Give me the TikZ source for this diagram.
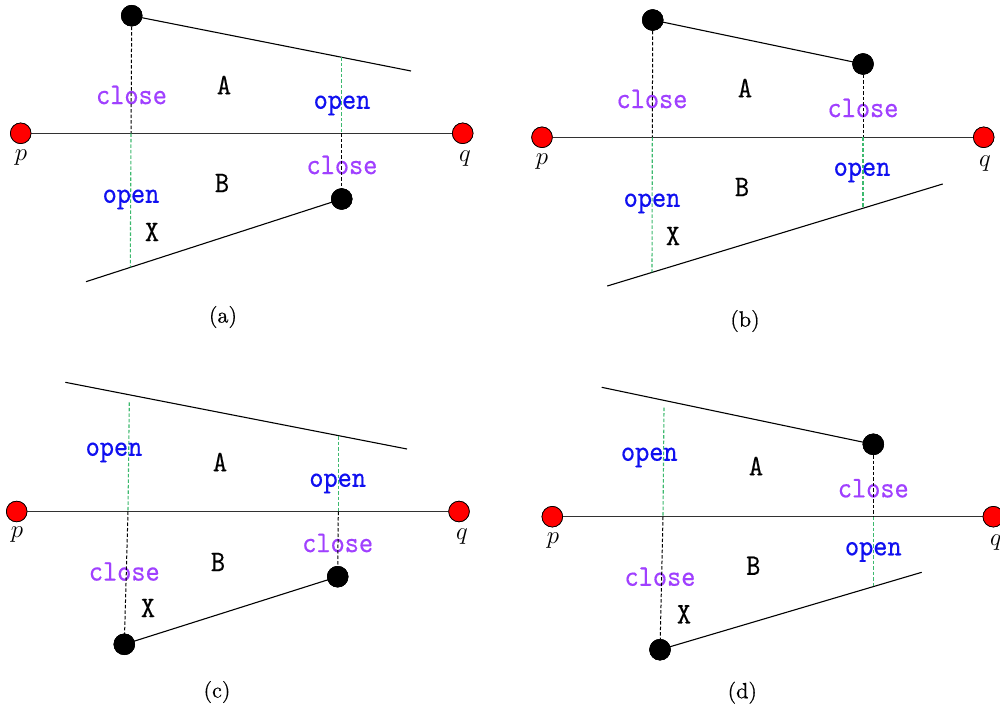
\documentclass[tikz,border=0pt]{standalone}
\usepackage{fontspec}
\newfontfamily\labfont{lmmono10-regular.otf}[FakeBold=0.35,FakeStretch=0.9]
\newfontfamily\capfont{lmroman10-regular.otf}[FakeBold=0.5]
\definecolor{closecol}{RGB}{160,64,255}
\definecolor{opencol}{RGB}{16,16,240}
\definecolor{greencol}{RGB}{60,185,110}
\definecolor{axiscol}{RGB}{50,50,50}
\tikzset{
  reddot/.style={circle, fill=red, draw=black, line width=0.7pt, minimum size=20.6pt, inner sep=0pt},
  blkdot/.style={circle, fill=black, draw=black, minimum size=21pt, inner sep=0pt},
  seg/.style={line width=1.1pt, black},
  axis/.style={line width=1.2pt, axiscol},
  bdash/.style={line width=1pt, black, dash pattern=on 3.5pt off 2pt},
  gdash/.style={line width=1.1pt, greencol, dash pattern=on 3.5pt off 2pt},
  lab/.style={font=\fontsize{30}{33}\selectfont\labfont, inner sep=0pt},
  closelab/.style={lab, text=closecol},
  openlab/.style={lab, text=opencol},
  region/.style={lab, text=black},
  ptlab/.style={font=\fontsize{24}{26}\selectfont, inner sep=0pt},
  caplab/.style={font=\fontsize{22}{24}\selectfont\capfont, inner sep=0pt}
}
\begin{document}
\begin{tikzpicture}[x=1pt,y=-1pt]
\useasboundingbox (0,0) rectangle (1000,708);
\clip (0,0) rectangle (1000,708);
\fill[white] (0,0) rectangle (1000,708);

% ---------------- panel (a)
\node[closelab] (ca1) at (131.5,95) {close};
\node[region] (Aa) at (224,85) {A};
\node[openlab] (oa1) at (342,105.5) {open};
\node[closelab] (ca2) at (342,165) {close};
\node[region] (Ba) at (222,183) {B};
\node[openlab] (oa2) at (131,199.5) {open};
\node[region] (Xa) at (152,232) {X};
\node[ptlab] (pla) at (21,158) {$p$};
\node[ptlab] (qla) at (465,159) {$q$};
\node[caplab] (capa) at (223,317) {(a)};

\coordinate (ta2) at (411,71);
\coordinate (ba2) at (86,281.7);
\coordinate (la1) at (131,133.3);
\coordinate (la2) at (130.3,267.4);
\coordinate (ra1) at (341.7,57.5);
\coordinate (ra2) at (341.7,133.3);
\node[reddot] (pa) at (20.7,133.3) {};
\node[reddot] (qa) at (462.7,133.3) {};
\node[blkdot] (ta) at (131.7,15.7) {};
\node[blkdot] (ba) at (341.7,199) {};
\draw[axis] (pa) -- (qa);
\draw[seg] (ta.center) -- (ta2);
\draw[seg] (ba.center) -- (ba2);
\draw[bdash] (ta.center) -- (la1);
\draw[gdash] (la1) -- (la2);
\draw[gdash] (ra1) -- (ra2);
\draw[bdash] (ra2) -- (ba.center);
\node[reddot] at (pa) {};
\node[reddot] at (qa) {};
\node[blkdot] at (ta) {};
\node[blkdot] at (ba) {};

% ---------------- panel (b)
\node[closelab] (cb1) at (652,99) {close};
\node[region] (Ab) at (745,88) {A};
\node[closelab] (cb2) at (863,108) {close};
\node[openlab] (ob2) at (862,172.5) {open};
\node[region] (Bb) at (742,187) {B};
\node[openlab] (ob1) at (652,203.5) {open};
\node[region] (Xb) at (673,236) {X};
\node[ptlab] (plb) at (542,162) {$p$};
\node[ptlab] (qlb) at (985,164) {$q$};
\node[caplab] (capb) at (745,321) {(b)};

\coordinate (bb1) at (607.3,286);
\coordinate (bb2) at (942.7,184);
\coordinate (lb1) at (652.3,137.3);
\coordinate (lb2) at (652,272.4);
\coordinate (rb1) at (863,137.3);
\coordinate (rb2) at (863,208.2);
\node[reddot] (pb) at (542,137.3) {};
\node[reddot] (qb) at (983.7,137.3) {};
\node[blkdot] (tb) at (652.7,20) {};
\node[blkdot] (rb) at (863,64) {};
\draw[axis] (pb) -- (qb);
\draw[seg] (tb.center) -- (rb.center);
\draw[seg] (bb1) -- (bb2);
\draw[bdash] (tb.center) -- (lb1);
\draw[gdash] (lb1) -- (lb2);
\draw[bdash] (rb.center) -- (rb1);
\draw[gdash] (rb1) -- (rb2);
\node[reddot] at (pb) {};
\node[reddot] at (qb) {};
\node[blkdot] at (tb) {};
\node[blkdot] at (rb) {};

% ---------------- panel (c)
\node[openlab] (oc1) at (114,452.5) {open};
\node[region] (Ac) at (220,462) {A};
\node[openlab] (oc2) at (337.7,483.5) {open};
\node[closelab] (cc2) at (337.7,543) {close};
\node[region] (Bc) at (218,562) {B};
\node[closelab] (cc1) at (124.3,571.5) {close};
\node[region] (Xc) at (148,608) {X};
\node[ptlab] (plc) at (17,535) {$p$};
\node[ptlab] (qlc) at (462,537) {$q$};
\node[caplab] (capc) at (217,692) {(c)};

\coordinate (tc1) at (65.3,382.3);
\coordinate (tc2) at (407,449);
\coordinate (lc0) at (129.3,402.3);
\coordinate (lc1) at (128,511.5);
\coordinate (rc0) at (338.3,436);
\coordinate (rc1) at (338.3,511.5);
\node[reddot] (pc) at (16.7,511.5) {};
\node[reddot] (qc) at (459,511.5) {};
\node[blkdot] (lcd) at (124.3,644.3) {};
\node[blkdot] (rcd) at (337.7,576.7) {};
\draw[axis] (pc) -- (qc);
\draw[seg] (tc1) -- (tc2);
\draw[seg] (lcd.center) -- (rcd.center);
\draw[gdash] (lc0) -- (lc1);
\draw[bdash] (lc1) -- (lcd.center);
\draw[gdash] (rc0) -- (rc1);
\draw[bdash] (rc1) -- (rcd.center);
\node[reddot] at (pc) {};
\node[reddot] at (qc) {};
\node[blkdot] at (lcd) {};
\node[blkdot] at (rcd) {};

% ---------------- panel (d)
\node[openlab] (od1) at (649.3,457.5) {open};
\node[region] (Ad) at (756,466) {A};
\node[closelab] (cd2) at (873.3,488.3) {close};
\node[openlab] (od2) at (873.3,552) {open};
\node[region] (Bd) at (753.3,565.7) {B};
\node[closelab] (cd1) at (660,576.7) {close};
\node[region] (Xd) at (684,614.3) {X};
\node[ptlab] (pld) at (553,541) {$p$};
\node[ptlab] (qld) at (996,543) {$q$};
\node[caplab] (capd) at (742.3,692.7) {(d)};

\coordinate (td1) at (601.7,387.3);
\coordinate (bd2) at (921.7,572.3);
\coordinate (ld0) at (664,407.7);
\coordinate (ld1) at (663,516.7);
\coordinate (rd1) at (873.3,516.7);
\coordinate (rd2) at (873.3,586.6);
\node[reddot] (pd) at (552.3,516.7) {};
\node[reddot] (qd) at (993.3,516.7) {};
\node[blkdot] (ldd) at (660,649.7) {};
\node[blkdot] (rdd) at (873.3,444.3) {};
\draw[axis] (pd) -- (qd);
\draw[seg] (td1) -- (rdd.center);
\draw[seg] (ldd.center) -- (bd2);
\draw[gdash] (ld0) -- (ld1);
\draw[bdash] (ld1) -- (ldd.center);
\draw[bdash] (rdd.center) -- (rd1);
\draw[gdash] (rd1) -- (rd2);
\node[reddot] at (pd) {};
\node[reddot] at (qd) {};
\node[blkdot] at (ldd) {};
\node[blkdot] at (rdd) {};
\end{tikzpicture}
\end{document}
